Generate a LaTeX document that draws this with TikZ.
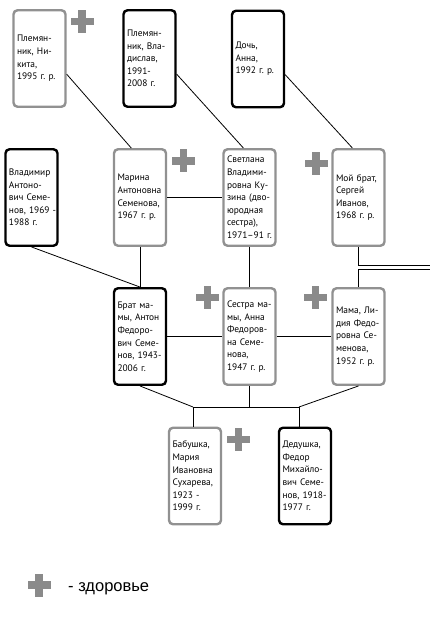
\documentclass[tikz,border=0pt]{standalone}
\usepackage{fontspec}
\setmainfont{PT Sans}
\newfontfamily\legfont{Liberation Sans}
\frenchspacing
\definecolor{boxgray}{RGB}{145,145,145}
\definecolor{plusgray}{RGB}{138,138,138}
\tikzset{
  person/.style={rounded corners=4pt, line width=2.4pt, minimum width=52pt,
    minimum height=96.5pt, text width=45pt, align=left, inner xsep=3.5pt, inner ysep=2pt,
    font=\fontsize{9.4}{12.6}\selectfont, fill=white},
  alive/.style={person, draw=boxgray},
  dead/.style={person, draw=black},
  link/.style={line width=0.8pt},
  health/.pic={
    \fill[plusgray] (-11.5,-3.8) rectangle (11.5,3.8);
    \fill[plusgray] (-3.8,-11.5) rectangle (3.8,11.5);
  }
}
\begin{document}
\begin{tikzpicture}[x=1pt,y=-1pt]
\useasboundingbox (0,0) rectangle (430,620);
% row 1
\node[alive] (nik)  at (39.5,58.5) {Племян-\\ник, Ни-\\кита,\\1995 г. р.};
\node[dead]  (vlad) at (149.5,58.5) {Племян-\\ник, Вла-\\дислав,\\1991-\\2008 г.};
\node[dead]  (doch) at (258,59) {Дочь,\\Анна,\\1992 г. р.};
% row 2
\node[dead]  (vla)  at (31.5,197.5) {Владимир\\Антоно-\\вич Семе-\\\mbox{нов, 1969 -}\\1988 г.};
\node[alive] (mar)  at (140,197.5) {Марина\\Антоновна\\Семенова,\\1967 г. р.};
\node[alive] (svet) at (249.5,197.5) {Светлана\\Владими-\\ровна Ку-\\зина (дво-\\юродная\\сестра),\\1971–91 г.};
\node[alive] (brat) at (358.5,197.5) {Мой брат,\\Сергей\\Иванов,\\1968 г. р.};
% row 3
\node[dead]  (bratm) at (140,336.5) {Брат ма-\\мы, Антон\\Федоро-\\вич Семе-\\\mbox{нов, 1943-}\\2006 г.};
\node[alive] (ses)   at (249.5,336.5) {Сестра ма-\\мы, Анна\\Федоров-\\на Семе-\\нова,\\1947 г. р.};
\node[alive] (mama)  at (358.5,336.5) {Мама, Ли-\\дия Федо-\\ровна Се-\\менова,\\1952 г. р.};
% row 4
\node[alive] (bab) at (195,476) {Бабушка,\\Мария\\Ивановна\\Сухарева,\\\mbox{1923 -}\\1999 г.};
\node[dead]  (ded) at (305,476) {Дедушка,\\Федор\\Михайло-\\вич Семе-\\\mbox{нов, 1918-}\\1977 г.};
% health marks
\pic at (82,21.5) {health};
\pic at (183.5,161) {health};
\pic at (316,163.5) {health};
\pic at (207.5,297.5) {health};
\pic at (315.5,297.5) {health};
\pic at (238.5,439.5) {health};
\pic at (39,585) {health};
\node[anchor=base west, inner sep=0pt, font=\legfont\fontsize{16.5}{19}\selectfont] (leg) at (68,591) {- здоровье};
% coordinates
\coordinate (e1) at (430,265);
\coordinate (e2) at (430,269);
\coordinate (j1) at (193,407);
\coordinate (j2) at (299,407);
% connectors
\draw[link] (nik.-30) -- (mar.100);
\draw[link] (vlad.-30) -- (svet.97);
\draw[link] (doch.-30) -- (brat.97);
\draw[link] (mar.east) -- (svet.west);
\draw[link] (vla.south) -- (bratm.north);
\draw[link] (mar.south) -- (bratm.north);
\draw[link] (svet.south) -- (ses.north);
\draw[link] (brat.south) |- (e1);
\draw[link] (e2) -| (mama.north);
\draw[link] (bratm.east) -- (ses.west);
\draw[link] (ses.east) -- (mama.west);
\draw[link] (bratm.south) -- (j1);
\draw[link] (mama.south) -- (j2);
\draw[link] (j1) -- (j2);
\draw[link] (ses.south) -- (ses.south |- j1);
\draw[link] (j1) -- (j1 |- bab.north);
\draw[link] (j2) -- (j2 |- ded.north);
\end{tikzpicture}
\end{document}
